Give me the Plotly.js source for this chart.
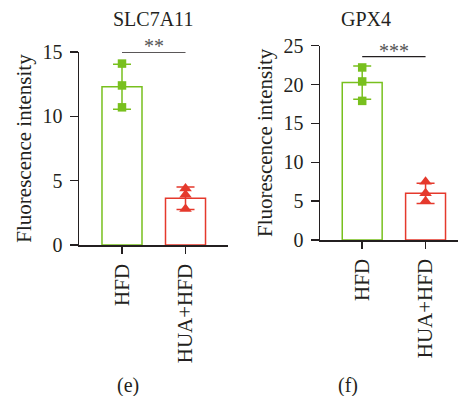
<!DOCTYPE html>
<html>
<head>
<meta charset="utf-8">
<script src="https://cdn.plot.ly/plotly-3.0.1.min.js"></script>
<style>html,body{margin:0;padding:0;background:#fff}#chart{width:458px;height:396px}</style>
</head>
<body>
<div id="chart"></div>
<script>
// ---- data ----
const categories = ['HFD', 'HUA+HFD'];

// (e) SLC7A11
const slcTitle = 'SLC7A11';
const slcHFD = [14.1, 12.4, 10.7];
const slcHUA = [4.4, 3.9, 2.8];
const slcMean = [12.3, 3.63];
const slcErr = [1.75, 0.87];
const slcSigY = 15;
const slcSig = '**';
const slcTicks = [0, 5, 10, 15];

// (f) GPX4
const gpxTitle = 'GPX4';
const gpxHFD = [22.2, 20.4, 17.9];
const gpxHUA = [7.5, 6.0, 5.0];
const gpxMean = [20.25, 6.0];
const gpxErr = [2.15, 1.3];
const gpxSigY = 23.6;
const gpxSig = '***';
const gpxTicks = [0, 5, 10, 15, 20, 25];

const yTitle = 'Fluorescence intensity';
const panelLabels = ['(e)', '(f)'];

// ---- styles ----
const GREEN = '#78c01e';
const RED = '#e5392c';
const INK = '#231f20';
const FONT = 'Liberation Serif, Times New Roman, serif';

function panelTraces(xa, ya, hfd, hua, mean, err, sigY) {
  const colors = [GREEN, RED];
  const tr = [];
  for (let i = 0; i < 2; i++) {
    tr.push({
      type: 'bar', x: [categories[i]], y: [mean[i]], xaxis: xa, yaxis: ya,
      width: 0.63,
      marker: {color: 'rgba(255,255,255,0)', line: {color: colors[i], width: 1.5}},
      error_y: {type: 'data', array: [err[i]], visible: true, color: colors[i], thickness: 1.5, width: 9},
      showlegend: false, hoverinfo: 'skip', cliponaxis: false
    });
  }
  tr.push({
    type: 'scatter', mode: 'markers', x: hfd.map(() => categories[0]), y: hfd,
    xaxis: xa, yaxis: ya, cliponaxis: false,
    marker: {symbol: 'square', size: 8.5, color: GREEN}, showlegend: false
  });
  tr.push({
    type: 'scatter', mode: 'markers', x: hua.map(() => categories[1]), y: hua,
    xaxis: xa, yaxis: ya, cliponaxis: false,
    marker: {symbol: 'triangle-up', size: 11, color: RED}, showlegend: false
  });
  tr.push({
    type: 'scatter', mode: 'lines', x: categories, y: [sigY, sigY],
    xaxis: xa, yaxis: ya, cliponaxis: false,
    line: {color: INK, width: 1.3}, showlegend: false, hoverinfo: 'skip'
  });
  return tr;
}

const data = [].concat(
  panelTraces('x', 'y', slcHFD, slcHUA, slcMean, slcErr, slcSigY),
  panelTraces('x2', 'y2', gpxHFD, gpxHUA, gpxMean, gpxErr, gpxSigY)
);

const W = 458, H = 396;
function xAxis(domPx, range) {
  return {
    domain: [domPx[0] / W, domPx[1] / W], range: range, type: 'category',
    showline: true, linecolor: INK, linewidth: 1.5, ticks: 'outside', ticklen: 7, tickwidth: 1.5, tickcolor: INK,
    ticklabelstandoff: 2,
    tickangle: -90, tickfont: {family: FONT, size: 21, color: INK}, showgrid: false, zeroline: false, fixedrange: true
  };
}
function yAxis(anchor, domPx, range, ticks) {
  return {
    anchor: anchor,
    domain: [(H - domPx[0]) / H, (H - domPx[1]) / H], range: range,
    tickvals: ticks, showline: true, linecolor: INK, linewidth: 1.5, ticks: 'outside', ticklen: 8, tickwidth: 1.5, tickcolor: INK,
    ticklabelstandoff: 3,
    tickfont: {family: FONT, size: 20, color: INK}, showgrid: false, zeroline: false, fixedrange: true,
    title: {text: yTitle, font: {family: FONT, size: 21, color: INK}, standoff: 5}
  };
}

const layout = {
  width: W, height: H,
  margin: {l: 0, r: 0, t: 0, b: 0, pad: 0},
  paper_bgcolor: '#fff', plot_bgcolor: 'rgba(0,0,0,0)',
  barmode: 'overlay', showlegend: false,
  font: {family: FONT, color: INK},
  xaxis: Object.assign(xAxis([79, 228], [-0.677, 1.669]), {anchor: 'y'}),
  yaxis: yAxis('x', [245, 52], [0, 15], slcTicks),
  xaxis2: Object.assign(xAxis([320, 458], [-0.666, 1.512]), {anchor: 'y2'}),
  yaxis2: yAxis('x2', [240, 45.7], [0, 25], gpxTicks),
  annotations: [
    {xref: 'paper', yref: 'paper', x: 153 / W, y: 1 - 19 / H, yanchor: 'middle', text: slcTitle, showarrow: false, font: {family: FONT, size: 20, color: INK}},
    {xref: 'paper', yref: 'paper', x: 393 / W, y: 1 - 19 / H, yanchor: 'middle', text: gpxTitle, showarrow: false, font: {family: FONT, size: 20, color: INK}},
    {xref: 'x', yref: 'y', x: 0.5, y: slcSigY, yanchor: 'middle', yshift: 6, text: slcSig, showarrow: false, font: {family: FONT, size: 20, color: '#555'}},
    {xref: 'x2', yref: 'y2', x: 0.5, y: gpxSigY, yanchor: 'middle', yshift: 6, text: gpxSig, showarrow: false, font: {family: FONT, size: 20, color: '#555'}},
    {xref: 'paper', yref: 'paper', x: 115 / W, y: 1 - 385 / H, yanchor: 'middle', text: panelLabels[0], showarrow: false, font: {family: FONT, size: 20, color: INK}},
    {xref: 'paper', yref: 'paper', x: 360 / W, y: 1 - 385 / H, yanchor: 'middle', text: panelLabels[1], showarrow: false, font: {family: FONT, size: 20, color: INK}}
  ]
};

Plotly.newPlot('chart', data, layout, {displayModeBar: false, staticPlot: true});
</script>
</body>
</html>
